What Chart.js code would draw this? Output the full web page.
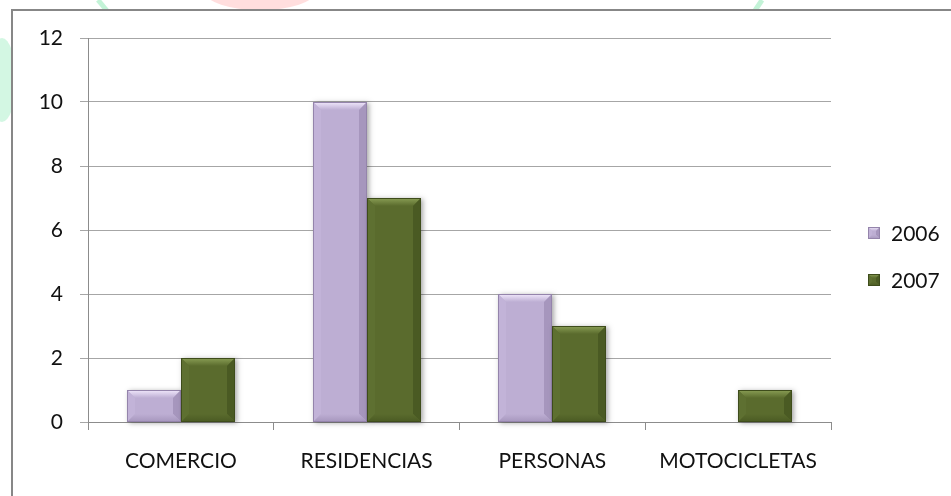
<!DOCTYPE html>
<html>
<head>
<meta charset="utf-8">
<script src="https://cdn.jsdelivr.net/npm/chart.js@4.4.1/dist/chart.umd.min.js"></script>
<style>
  html, body { margin: 0; padding: 0; background: #ffffff; }
  #wrap { position: relative; width: 951px; height: 496px; }
</style>
</head>
<body>
<div id="wrap"><canvas id="c"></canvas></div>
<script>
const categories = ["COMERCIO", "RESIDENCIAS", "PERSONAS", "MOTOCICLETAS"];
const seriesNames = ["2006", "2007"];
const values2006 = [1, 10, 4, 0];
const values2007 = [2, 7, 3, 1];
const yTicks = [0, 2, 4, 6, 8, 10, 12];

const FONT = "Lato";
const palette = [
  { base: "#BDAED3", light: "#F1E8FC", side: "#C2B3D8", dark: "#A696BD", edge: "#9484AB" },
  { base: "#5A6B2D", light: "#8A9E55", side: "#5E7031", dark: "#4A5A23", edge: "#3E4C1B" }
];

function bevelRect(ctx, L, T, R, B, p, b) {
  const w = R - L, h = B - T;
  b = Math.max(0, Math.min(b, w / 2 - 1, h / 2));
  ctx.fillStyle = p.base;
  ctx.fillRect(L, T, w, h);
  if (b > 0) {
    let g = ctx.createLinearGradient(0, T, 0, T + b);
    g.addColorStop(0, p.light); g.addColorStop(1, p.base);
    ctx.fillStyle = g;
    ctx.beginPath(); ctx.moveTo(L, T); ctx.lineTo(R, T); ctx.lineTo(R - b, T + b); ctx.lineTo(L + b, T + b); ctx.closePath(); ctx.fill();
    ctx.fillStyle = p.side;
    ctx.beginPath(); ctx.moveTo(L, T); ctx.lineTo(L + b, T + b); ctx.lineTo(L + b, B - b); ctx.lineTo(L, B); ctx.closePath(); ctx.fill();
    ctx.fillStyle = p.dark;
    ctx.beginPath(); ctx.moveTo(R, T); ctx.lineTo(R - b, T + b); ctx.lineTo(R - b, B - b); ctx.lineTo(R, B); ctx.closePath(); ctx.fill();
    g = ctx.createLinearGradient(0, B - b, 0, B);
    g.addColorStop(0, p.base); g.addColorStop(1, p.dark);
    ctx.fillStyle = g;
    ctx.beginPath(); ctx.moveTo(L, B); ctx.lineTo(R, B); ctx.lineTo(R - b, B - b); ctx.lineTo(L + b, B - b); ctx.closePath(); ctx.fill();
  }
  ctx.strokeStyle = p.edge;
  ctx.lineWidth = 1;
  ctx.strokeRect(L + 0.5, T + 0.5, w - 1, h - 1);
}

const framePlugin = {
  id: "frame",
  beforeDraw(chart) {
    const ctx = chart.ctx;
    ctx.save();
    ctx.fillStyle = "#ffffff";
    ctx.fillRect(0, 0, chart.width, chart.height);
    ctx.fillStyle = "rgba(255,200,200,0.6)";
    ctx.beginPath(); ctx.ellipse(260, -8, 55, 18, 0, 0, Math.PI * 2); ctx.fill();
    ctx.strokeStyle = "rgba(180,240,205,0.8)";
    ctx.lineWidth = 5;
    ctx.beginPath(); ctx.moveTo(98, 0); ctx.lineTo(108, 12); ctx.stroke();
    ctx.beginPath(); ctx.moveTo(762, 0); ctx.lineTo(754, 12); ctx.stroke();
    ctx.fillStyle = "rgba(200,245,220,0.8)";
    ctx.beginPath(); ctx.ellipse(2, 80, 14, 42, 0, 0, Math.PI * 2); ctx.fill();
    ctx.fillStyle = "#ffffff";
    ctx.fillRect(12, 10, chart.width, chart.height);
    ctx.strokeStyle = "#878787";
    ctx.lineWidth = 2;
    ctx.strokeRect(12, 10, chart.width + 20, chart.height + 20);
    ctx.restore();
  }
};

const bevelPlugin = {
  id: "bevel",
  afterDatasetsDraw(chart) {
    const ctx = chart.ctx;
    ctx.save();
    chart.data.datasets.forEach((ds, di) => {
      const meta = chart.getDatasetMeta(di);
      meta.data.forEach(bar => {
        const L = Math.round(bar.x - bar.width / 2), R = Math.round(bar.x + bar.width / 2);
        const T = Math.round(Math.min(bar.y, bar.base)), B = Math.round(Math.max(bar.y, bar.base));
        if (B - T < 1) return;
        ctx.save();
        ctx.shadowColor = "rgba(0,0,0,0.35)";
        ctx.shadowBlur = 5;
        ctx.shadowOffsetX = 2;
        ctx.shadowOffsetY = 1;
        ctx.fillStyle = palette[di].base;
        ctx.fillRect(L, T, R - L, B - T);
        ctx.restore();
        bevelRect(ctx, L, T, R, B, palette[di], 8);
      });
    });
    ctx.restore();
  }
};

const legendPlugin = {
  id: "customLegend",
  afterDraw(chart) {
    const ctx = chart.ctx;
    ctx.save();
    const ys = [233, 280];
    chart.data.datasets.forEach((ds, i) => {
      const y = ys[i];
      bevelRect(ctx, 868, y - 6, 880, y + 6, palette[i], 4);
      ctx.fillStyle = "#111111";
      ctx.font = "21px " + FONT;
      ctx.textAlign = "left";
      ctx.textBaseline = "middle";
      ctx.fillText(ds.label, 891, y + 1);
    });
    ctx.restore();
  }
};

new Chart(document.getElementById("c"), {
  type: "bar",
  data: {
    labels: categories,
    datasets: [
      { label: seriesNames[0], data: values2006, backgroundColor: "rgba(0,0,0,0)", borderWidth: 0 },
      { label: seriesNames[1], data: values2007, backgroundColor: "rgba(0,0,0,0)", borderWidth: 0 }
    ]
  },
  options: {
    responsive: true,
    maintainAspectRatio: false,
    animation: false,
    layout: { padding: { top: 38, right: 120, bottom: 0, left: 0 } },
    datasets: { bar: { categoryPercentage: 108 / 185.75, barPercentage: 1 } },
    plugins: { legend: { display: false }, tooltip: { enabled: false } },
    scales: {
      x: {
        afterFit(scale) { scale.height = 74; },
        grid: { display: true, drawOnChartArea: false, drawTicks: true, tickLength: 8, color: "#8c8c8c", offset: true },
        border: { display: true, color: "#8c8c8c" },
        ticks: { color: "#111111", font: { family: FONT, size: 21 }, padding: 19, maxRotation: 0 }
      },
      y: {
        min: 0, max: 12,
        afterFit(scale) { scale.width = 88; },
        afterBuildTicks(scale) { scale.ticks = yTicks.map(v => ({ value: v })); },
        grid: { color: "#a6a6a6", drawTicks: true, tickLength: 8 },
        border: { display: true, color: "#8c8c8c" },
        ticks: { color: "#111111", font: { family: FONT, size: 21 }, padding: 17 }
      }
    }
  },
  plugins: [framePlugin, bevelPlugin, legendPlugin]
});
</script>
</body>
</html>
